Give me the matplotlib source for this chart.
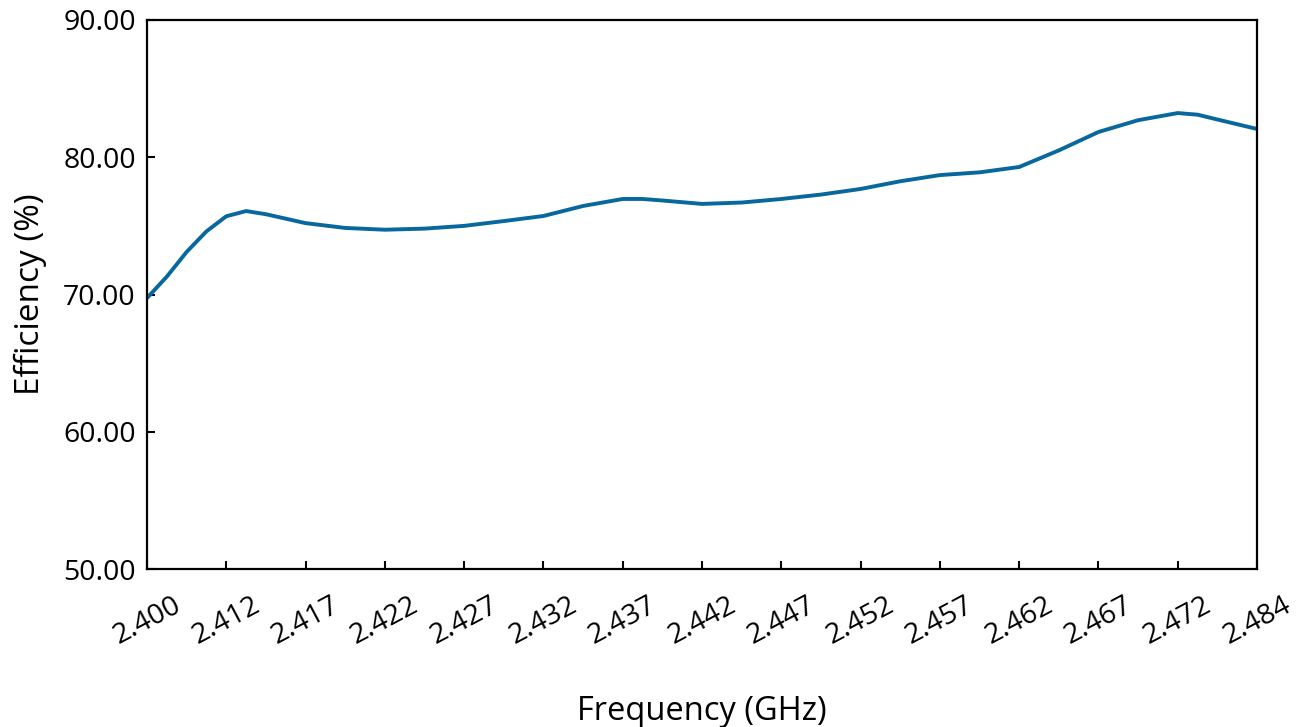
import matplotlib
matplotlib.use("Agg")
import matplotlib.pyplot as plt
from matplotlib.ticker import FormatStrFormatter

# x tick labels (equally spaced categories on the axis)
freq_labels = ["2.400", "2.412", "2.417", "2.422", "2.427", "2.432", "2.437",
               "2.442", "2.447", "2.452", "2.457", "2.462", "2.467", "2.472", "2.484"]

# sample positions (in tick units) and efficiency values
pos = [0, 0.25, 0.5, 0.75, 1, 1.25, 1.5, 2, 2.5, 3, 3.5, 4, 4.5, 5, 5.5, 6, 6.25, 6.5,
       7, 7.5, 8, 8.5, 9, 9.5, 10, 10.5, 11, 11.5, 12, 12.5, 13, 13.25, 13.5, 14]
efficiency = [69.74, 71.3, 73.1, 74.6, 75.7, 76.08, 75.85, 75.2, 74.85, 74.72, 74.8, 75.0,
              75.35, 75.72, 76.45, 76.96, 76.96, 76.85, 76.6, 76.7, 76.96, 77.28,
              77.69, 78.25, 78.7, 78.9, 79.29, 80.5, 81.84, 82.7, 83.22, 83.1,
              82.75, 82.06]

plt.rcParams['font.family'] = ['Open Sans', 'DejaVu Sans']

fig = plt.figure(figsize=(13.04, 7.27), dpi=100)
ax = fig.add_axes([0.1127, 0.2173, 0.8513, 0.7552])

ax.plot(pos, efficiency, color='#08689e', linewidth=2.8, solid_joinstyle='round')

ax.set_xlim(0, len(freq_labels) - 1)
ax.set_ylim(50, 90)
ax.set_xticks(range(len(freq_labels)))
ax.set_xticklabels(freq_labels, rotation=28, ha='center', fontsize=20.5)
ax.set_yticks([50, 60, 70, 80, 90])
ax.yaxis.set_major_formatter(FormatStrFormatter('%.2f'))
ax.tick_params(axis='y', labelsize=20.5, pad=8)
ax.tick_params(axis='x', pad=16)
ax.tick_params(direction='in', length=6, width=1.5, top=False, right=False)

for sp in ax.spines.values():
    sp.set_linewidth(1.6)
    sp.set_color('black')

ax.set_xlabel("Frequency (GHz)", fontsize=23.5, labelpad=32)
ax.set_ylabel("Efficiency (%)", fontsize=24, labelpad=12)

fig.savefig("out.png", dpi=100)
